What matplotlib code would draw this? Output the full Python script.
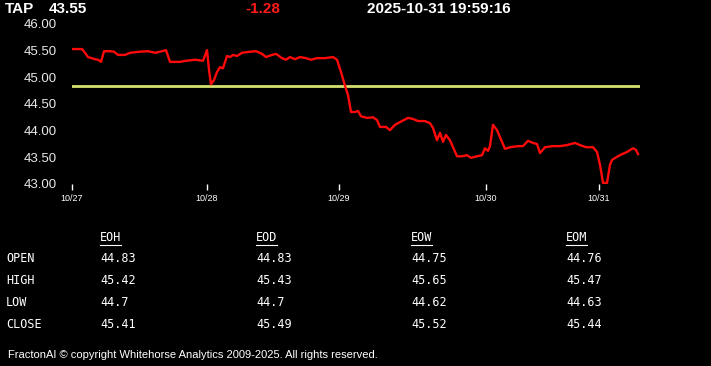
import matplotlib.pyplot as plt
from matplotlib.lines import Line2D

# price series (bar index, price)
bars = [0, 10, 13, 16, 23, 26, 29, 32, 38, 42, 46, 53, 58, 68, 76, 83, 88, 94, 98, 108,
        114, 123, 131, 134, 135, 137, 139, 142, 145, 148, 151, 155, 158, 161, 165, 170,
        178, 184, 190, 194, 200, 204, 210, 214, 218, 223, 228, 234, 239, 245, 253, 261,
        265, 269, 273, 276, 279, 283, 286, 289, 295, 301, 305, 308, 314, 318, 323, 328,
        336, 341, 346, 353, 358, 361, 365, 368, 371, 374, 378, 385, 390, 395, 399, 405,
        410, 413, 416, 418, 421, 425, 430, 433, 438, 446, 451, 456, 461, 465, 468, 473,
        481, 488, 495, 503, 508, 514, 521, 525, 528, 531, 535, 538, 540, 545, 550, 555,
        561, 564, 566]
prices = [45.53, 45.53, 45.46, 45.38, 45.34, 45.33, 45.29, 45.49, 45.49, 45.48, 45.42,
          45.42, 45.46, 45.48, 45.49, 45.46, 45.48, 45.51, 45.29, 45.29, 45.31, 45.33,
          45.31, 45.46, 45.51, 45.14, 44.87, 44.95, 45.10, 45.19, 45.17, 45.40, 45.38,
          45.42, 45.40, 45.46, 45.48, 45.49, 45.44, 45.38, 45.42, 45.44, 45.36, 45.33,
          45.38, 45.34, 45.38, 45.36, 45.33, 45.36, 45.36, 45.38, 45.33, 45.10, 44.84,
          44.67, 44.35, 44.35, 44.37, 44.27, 44.24, 44.25, 44.20, 44.07, 44.07, 44.01,
          44.11, 44.16, 44.24, 44.22, 44.18, 44.18, 44.14, 44.05, 43.82, 43.96, 43.79,
          43.92, 43.82, 43.52, 43.52, 43.54, 43.49, 43.52, 43.54, 43.67, 43.62, 43.71,
          44.11, 44.01, 43.79, 43.66, 43.69, 43.71, 43.71, 43.81, 43.77, 43.75, 43.58,
          43.69, 43.71, 43.71, 43.73, 43.77, 43.73, 43.69, 43.69, 43.60, 43.36, 43.02,
          43.02, 43.36, 43.45, 43.51, 43.56, 43.60, 43.67, 43.64, 43.56]
open_price = 44.83

tick_pos = [0, 135, 267, 414, 527]
tick_labels = ['10/27', '10/28', '10/29', '10/30', '10/31']
y_ticks = [43.0, 43.5, 44.0, 44.5, 45.0, 45.5, 46.0]

symbol = 'TAP'
last = '43.55'
change = '-1.28'
stamp = '2025-10-31 19:59:16'

# summary table
columns = ['EOH', 'EOD', 'EOW', 'EOM']
rows = ['OPEN', 'HIGH', 'LOW', 'CLOSE']
table = [['44.83', '44.83', '44.75', '44.76'],
         ['45.42', '45.43', '45.65', '45.47'],
         ['44.7', '44.7', '44.62', '44.63'],
         ['45.41', '45.49', '45.52', '45.44']]

W, H = 711, 366
fig = plt.figure(figsize=(W / 100, H / 100), dpi=100, facecolor='black')
ax = fig.add_axes([72 / W, 1 - 184 / H, (640 - 72) / W, (184 - 24) / H])
ax.set_facecolor('black')

ax.axhline(open_price, color='#d6e06e', lw=2)
ax.plot(bars, prices, color='#ff0a0a', lw=1.7)

ax.set_xlim(0, 568)
ax.set_ylim(43, 46)
ax.set_yticks(y_ticks)
ax.set_yticklabels(['%.2f' % v for v in y_ticks])
ax.set_xticks(tick_pos)
ax.set_xticklabels(tick_labels)
for s in ax.spines.values():
    s.set_visible(False)
ax.tick_params(axis='y', length=0, pad=11, colors='#e8e8e8', labelsize=9.5)
ax.tick_params(axis='x', length=4, width=1, color='white', pad=3,
               labelcolor='white', labelsize=6.5)
for t in ax.get_xticklabels() + ax.get_yticklabels():
    t.set_family('Liberation Sans')

# header
hdr = dict(color='white', fontsize=11, fontweight='bold', family='Liberation Sans',
           va='center', ha='left')
fig.text(5 / W, 1 - 9 / H, symbol, **hdr)
fig.text(49 / W, 1 - 9 / H, last, **hdr)
fig.text(245 / W, 1 - 9 / H, change, **{**hdr, 'color': '#ff1a1a'})
fig.text(367 / W, 1 - 9 / H, stamp, **hdr)

# table
col_x = [100, 256, 411, 566]
row_y = [259, 280, 302, 324]
mono = dict(color='white', fontsize=8.5, family='DejaVu Sans Mono', va='center', ha='left')
for cx, name in zip(col_x, columns):
    fig.text(cx / W, 1 - 238 / H, name, **mono)
    fig.add_artist(Line2D([cx / W, (cx + 21) / W], [1 - 245 / H, 1 - 245 / H],
                          color='white', lw=0.8))
for ry, name, vals in zip(row_y, rows, table):
    fig.text(6 / W, 1 - ry / H, name, **mono)
    for cx, v in zip(col_x, vals):
        fig.text(cx / W, 1 - ry / H, v, **mono)

fig.text(8 / W, 1 - 355 / H,
         'FractonAI \u00a9 copyright Whitehorse Analytics 2009-2025. All rights reserved.',
         color='white', fontsize=8, family='Liberation Sans', va='center', ha='left')

fig.savefig('out.png', dpi=100, facecolor='black')
